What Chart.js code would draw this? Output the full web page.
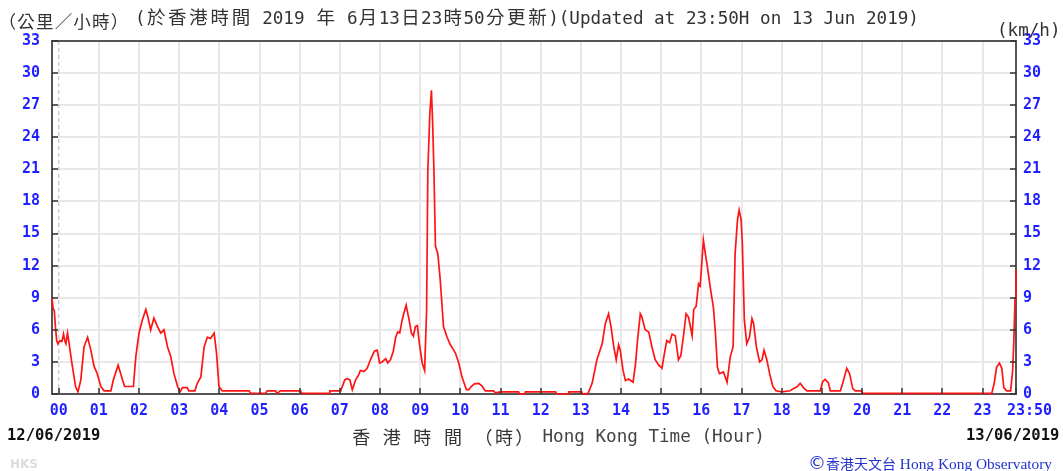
<!DOCTYPE html>
<html><head><meta charset="utf-8">
<script src="https://cdn.jsdelivr.net/npm/chart.js@4.4.1/dist/chart.umd.min.js"></script>
<style>
html,body{margin:0;padding:0;background:#fff;}
#wrap{position:relative;width:1063px;height:471px;overflow:hidden;background:#fff;}
canvas{position:absolute;left:0;top:0;}
.t{position:absolute;white-space:pre;font-family:"DejaVu Sans Mono",monospace;color:#333;}
.t span{display:inline-block;text-align:center;white-space:pre;}
</style></head><body>
<div id="wrap">
<canvas id="c" width="1063" height="471"></canvas>
<div class="t" id="unitL" style="left:-2px;top:10px;font-size:18px;line-height:22px;"></div>
<div class="t" id="title" style="left:135px;top:5px;font-size:17.6px;line-height:22px;"></div>
<div class="t" id="unitR" style="left:997px;top:19px;font-size:17.6px;line-height:22px;">(km/h)</div>
<div class="t" id="d1" style="left:7px;top:426px;font-size:15.5px;line-height:18px;font-weight:bold;color:#111;">12/06/2019</div>
<div class="t" id="d2" style="left:966px;top:426px;font-size:15.5px;line-height:18px;font-weight:bold;color:#111;">13/06/2019</div>
<div class="t" id="xzh" style="left:351px;top:425px;font-size:17px;line-height:22px;color:#333;"></div>
<div class="t" id="xen" style="left:542.5px;top:425px;font-size:17.6px;line-height:22px;color:#444;">Hong Kong Time (Hour)</div>
<div class="t" style="left:10px;top:457px;font-family:'DejaVu Sans',sans-serif;font-weight:bold;font-size:12px;line-height:14px;color:#dcdcdc;">HKS</div>
<div class="t" style="left:808px;top:454px;font-family:'Liberation Serif',serif;font-size:15.4px;line-height:18px;color:#2233cc;"><span style="font-size:18px;font-family:'DejaVu Sans';">©</span><span style="font-family:'Noto Sans CJK TC';font-size:14px;">香港天文台</span> Hong Kong Observatory</div>
</div>
<script>
// ---- data (hours relative to 00:00 of 13 Jun 2019; first point 23:50 on 12 Jun) ----
const timesH = [
 -0.167,-0.14,-0.11,-0.08,-0.05,-0.02,0.03,0.08,0.12,0.15,0.18,0.22,0.25,0.27,0.34,0.42,0.48,0.55,0.63,0.72,
 0.80,0.88,0.96,1.05,1.13,1.30,1.36,1.48,1.59,1.64,1.86,1.92,2.00,2.08,2.17,2.22,2.29,2.37,2.46,2.54,
 2.62,2.71,2.79,2.87,2.96,3.02,3.08,3.20,3.24,3.39,3.45,3.54,3.62,3.70,3.78,3.87,3.93,3.99,4.07,4.74,
 4.78,5.15,5.19,5.40,5.43,5.52,6.02,6.05,6.73,6.75,7.02,7.12,7.18,7.25,7.31,7.39,7.47,7.51,7.60,7.68,
 7.76,7.86,7.93,7.99,8.05,8.14,8.19,8.26,8.33,8.39,8.44,8.49,8.55,8.59,8.65,8.72,8.78,8.83,8.88,8.93,
 8.98,9.05,9.11,9.16,9.19,9.24,9.28,9.31,9.34,9.38,9.44,9.50,9.58,9.67,9.75,9.82,9.88,9.96,10.04,10.15,
 10.21,10.27,10.35,10.46,10.54,10.62,10.83,10.87,11.00,11.45,11.47,11.60,11.62,12.37,12.40,12.68,12.70,13.02,13.04,13.18,
 13.28,13.40,13.53,13.61,13.69,13.75,13.82,13.88,13.94,13.98,14.05,14.11,14.19,14.30,14.36,14.41,14.48,14.52,14.60,14.69,
 14.77,14.85,14.94,15.02,15.08,15.14,15.21,15.27,15.35,15.43,15.49,15.56,15.62,15.68,15.77,15.81,15.87,15.93,15.97,16.01,
 16.05,16.10,16.15,16.22,16.30,16.35,16.40,16.45,16.55,16.64,16.72,16.79,16.84,16.90,16.94,16.99,17.02,17.07,17.13,17.20,
 17.26,17.30,17.37,17.45,17.51,17.56,17.63,17.70,17.78,17.86,18.00,18.21,18.29,18.39,18.46,18.54,18.63,18.96,19.02,19.08,
 19.16,19.21,19.46,19.52,19.62,19.69,19.77,19.83,19.99,20.02,23.23,23.29,23.35,23.42,23.48,23.53,23.60,23.70,23.75,23.78,
 23.81,23.833
];
const speedKmh = [
 9.0,8.0,7.8,6.2,5.0,4.7,5.0,4.9,5.6,5.0,4.7,5.7,5.0,4.4,2.6,0.7,0.2,1.3,4.4,5.3,
 4.1,2.6,1.9,0.7,0.3,0.3,1.3,2.7,1.3,0.7,0.7,3.5,5.7,6.9,7.9,7.2,6.0,7.1,6.3,5.7,
 6.0,4.4,3.5,1.9,0.7,0.2,0.6,0.6,0.3,0.3,1.0,1.6,4.4,5.3,5.2,5.7,3.8,0.7,0.3,0.3,
 0.05,0.05,0.3,0.3,0.05,0.3,0.3,0.05,0.05,0.3,0.3,1.3,1.45,1.3,0.4,1.3,1.8,2.2,2.1,2.4,
 3.2,4.0,4.1,2.9,3.0,3.3,2.9,3.2,4.0,5.3,5.8,5.7,6.9,7.5,8.3,7.0,5.7,5.4,6.3,6.4,
 4.7,2.9,2.2,7.9,20.9,26.2,28.4,25.3,21.2,13.8,13.1,10.6,6.3,5.3,4.6,4.2,3.8,2.9,1.6,0.4,
 0.4,0.7,0.95,1.0,0.75,0.3,0.3,0.1,0.2,0.2,0.0,0.0,0.2,0.2,0.0,0.0,0.2,0.2,0.0,0.05,
 1.0,3.2,4.7,6.6,7.5,6.3,4.4,3.2,4.6,4.1,2.2,1.25,1.4,1.1,2.8,5.0,7.5,7.2,6.0,5.8,
 4.4,3.2,2.7,2.4,3.8,5.0,4.8,5.6,5.45,3.2,3.6,5.6,7.5,7.2,5.45,7.9,8.2,10.3,10.1,12.2,
 14.4,13.1,11.9,10.0,8.1,5.7,2.5,1.9,2.06,1.1,3.5,4.4,13.1,16.3,17.2,16.3,14.1,6.9,4.7,5.35,
 7.05,6.6,4.4,3.0,3.2,4.1,3.2,1.9,0.7,0.3,0.2,0.3,0.5,0.7,1.0,0.6,0.3,0.3,1.15,1.37,
 1.06,0.3,0.3,1.0,2.4,1.9,0.5,0.3,0.3,0.05,0.05,1.0,2.5,2.9,2.4,0.6,0.3,0.3,2.2,5.0,
 9.0,11.6
];
const xTickValues = [0,1,2,3,4,5,6,7,8,9,10,11,12,13,14,15,16,17,18,19,20,21,22,23,23+50/60];
const xTickLabels = ['00','01','02','03','04','05','06','07','08','09','10','11','12','13','14','15','16','17','18','19','20','21','22','23','   23:50'];
const yTickValues = [0,3,6,9,12,15,18,21,24,27,30,33];
const xMin = -10/60, xMax = 23+50/60;

// ---- texts laid out on a double-width character grid ----
function cellText(id, str, cw, cjkSize){
  const el = document.getElementById(id);
  let html = '';
  for (const ch of str){
    const wide = ch.codePointAt(0) >= 0x2E80;
    const w = wide ? cw : cw/2;
    const f = wide ? `font-family:'Noto Sans CJK TC';font-size:${cjkSize}px;` : '';
    html += `<span style="width:${w}px;${f}">${ch}</span>`;
  }
  el.innerHTML = html;
}
cellText('unitL', '（公里／小時）', 18.7, 17.5);
cellText('title', '(於香港時間 2019 年 6月13日23時50分更新)(Updated at 23:50H on 13 Jun 2019)', 21.2, 18.5);
cellText('xzh', '香 港 時 間 （時）', 20.4, 18);

// ---- chart ----
const tickFont = {family:'DejaVu Sans Mono', size:15, weight:'bold'};
const blue = '#1f1fff';
const gridCol = '#e8e8e8';

const marks = {
  id:'marks',
  beforeDatasetsDraw(chart){
    const {ctx, chartArea:a, scales:{x}} = chart;
    const x0 = x.getPixelForValue(0);
    ctx.save();
    ctx.strokeStyle = '#cfcfcf'; ctx.lineWidth = 1.5; ctx.setLineDash([4,3]);
    ctx.beginPath(); ctx.moveTo(x0, a.top); ctx.lineTo(x0, a.bottom); ctx.stroke();
    ctx.restore();
  },
  afterDraw(chart){
    const {ctx, chartArea:a, scales:{x, y}} = chart;
    ctx.save();
    ctx.strokeStyle = '#555'; ctx.lineWidth = 2;
    ctx.beginPath(); ctx.moveTo(a.left-1, a.top); ctx.lineTo(a.right+1, a.top); ctx.stroke();
    ctx.strokeStyle = '#333'; ctx.lineWidth = 1.5;
    ctx.beginPath();
    xTickValues.forEach(v => { const px = Math.round(x.getPixelForValue(v)); ctx.moveTo(px, a.bottom); ctx.lineTo(px, a.bottom-6); });
    yTickValues.forEach(v => { const py = Math.round(y.getPixelForValue(v));
      ctx.moveTo(a.left, py); ctx.lineTo(a.left+6, py);
      ctx.moveTo(a.right, py); ctx.lineTo(a.right-6, py); });
    ctx.stroke();
    ctx.restore();
  }
};

new Chart(document.getElementById('c'), {
  type:'line',
  data:{datasets:[{
    data: timesH.map((h,i) => ({x:h, y:speedKmh[i]})),
    borderColor:'#ff1414', borderWidth:1.7, pointRadius:0, tension:0, fill:false, clip:3
  }]},
  options:{
    responsive:false, animation:false, devicePixelRatio:1,
    layout:{padding:{top:41,left:0,right:0,bottom:0}},
    plugins:{legend:{display:false}, tooltip:{enabled:false}, title:{display:false}},
    scales:{
      x:{type:'linear', min:xMin, max:xMax,
        afterBuildTicks:s => { s.ticks = xTickValues.map(v => ({value:v})); },
        afterFit:s => { s.height = 77; },
        grid:{color:c => c.index === 0 ? 'rgba(0,0,0,0)' : gridCol, lineWidth:2, drawTicks:false},
        border:{color:'#555', width:2},
        ticks:{autoSkip:false, maxRotation:0, minRotation:0, padding:8, color:blue, font:tickFont,
          callback:(v,i) => xTickLabels[i]}
      },
      y:{position:'left', min:0, max:33,
        afterBuildTicks:s => { s.ticks = yTickValues.map(v => ({value:v})); },
        afterFit:s => { s.width = 52; },
        grid:{color:gridCol, lineWidth:2, drawTicks:false},
        border:{color:'#555', width:2},
        ticks:{padding:12, color:blue, font:tickFont, callback:v => String(v)}
      },
      y2:{position:'right', min:0, max:33,
        afterBuildTicks:s => { s.ticks = yTickValues.map(v => ({value:v})); },
        afterFit:s => { s.width = 47; },
        grid:{drawOnChartArea:false, drawTicks:false},
        border:{color:'#555', width:2},
        ticks:{padding:7, color:blue, font:tickFont, callback:v => String(v)}
      }
    }
  },
  plugins:[marks]
});
</script>
</body></html>
